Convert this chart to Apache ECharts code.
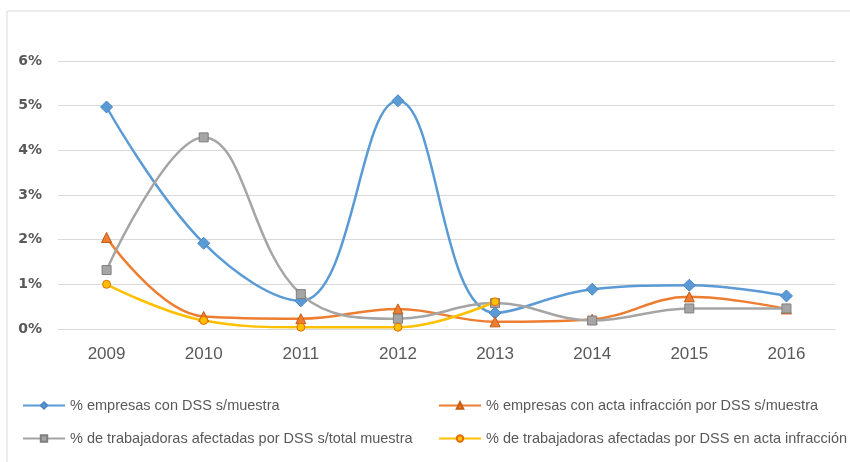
<!DOCTYPE html>
<html>
<head>
<meta charset="utf-8">
<script src="https://cdn.jsdelivr.net/npm/echarts@6/dist/echarts.min.js"></script>
<style>
  html, body { margin: 0; padding: 0; background: #fff; }
  #chart { width: 850px; height: 462px; }
</style>
</head>
<body>
<div id="chart"></div>
<script>
// años
var years = ["2009", "2010", "2011", "2012", "2013", "2014", "2015", "2016"];
// % empresas con DSS s/muestra
var empresasDss = [4.97, 1.92, 0.63, 5.11, 0.36, 0.89, 0.98, 0.74];
// % empresas con acta infracción por DSS s/muestra
var empresasActa = [2.05, 0.28, 0.23, 0.45, 0.16, 0.22, 0.72, 0.45];
// % de trabajadoras afectadas por DSS s/total muestra
var trabajadorasTotal = [1.32, 4.29, 0.78, 0.23, 0.58, 0.19, 0.46, 0.46];
// % de trabajadoras afectadas por DSS en acta infracción
var trabajadorasActa = [1.0, 0.19, 0.04, 0.04, 0.61, null, null, null];

var names = [
  "% empresas con DSS s/muestra",
  "% empresas con acta infracción por DSS s/muestra",
  "% de trabajadoras afectadas por DSS s/total muestra",
  "% de trabajadoras afectadas por DSS en acta infracción"
];

var myChart = echarts.init(document.getElementById("chart"));

function serie(name, data, color, border, symbol, size) {
  return {
    name: name,
    type: "line",
    data: data,
    smooth: 0.4,
    symbol: symbol,
    symbolSize: size,
    showAllSymbol: true,
    connectNulls: false,
    lineStyle: { color: color, width: 2.5 },
    itemStyle: { color: color, borderColor: border, borderWidth: 1 },
  };
}

var legendText = { color: "#595959", fontSize: 14.5, fontFamily: "Liberation Sans" };

var option = {
  animation: false,
  backgroundColor: "#fff",
  graphic: [
    {
      type: "rect",
      shape: { x: 7, y: 11, width: 860, height: 470 },
      style: { fill: "none", stroke: "#d9d9d9", lineWidth: 1 },
      silent: true,
    },
  ],
  grid: { left: 58, right: 15, top: 61, bottom: 133 },
  legend: [
    {
      orient: "vertical",
      left: 17,
      top: 393,
      itemWidth: 42,
      itemHeight: 8,
      itemGap: 18,
      textStyle: legendText,
      data: [names[0], names[2]],
    },
    {
      orient: "vertical",
      left: 433,
      top: 393,
      itemWidth: 42,
      itemHeight: 8,
      itemGap: 18,
      textStyle: legendText,
      data: [names[1], names[3]],
    },
  ],
  xAxis: {
    type: "category",
    data: years,
    boundaryGap: true,
    axisLine: { show: true, lineStyle: { color: "#d9d9d9", width: 1 } },
    axisTick: { show: false },
    axisLabel: {
      color: "#595959",
      fontSize: 17,
      fontFamily: "Liberation Sans",
      margin: 17,
    },
  },
  yAxis: {
    type: "value",
    min: 0,
    max: 6,
    interval: 1,
    axisLine: { show: false },
    axisTick: { show: false },
    splitLine: { lineStyle: { color: "#d9d9d9", width: 1 } },
    axisLabel: {
      formatter: "{value}%",
      color: "#595959",
      fontSize: 14,
      fontWeight: "bold",
      fontFamily: "DejaVu Sans",
      margin: 16,
    },
  },
  series: [
    serie(names[0], empresasDss, "#5B9BD5", "#4A86C5", "diamond", 12),
    serie(names[1], empresasActa, "#ED7D31", "#C55A11", "triangle", 10),
    serie(names[2], trabajadorasTotal, "#A5A5A5", "#7F7F7F", "rect", 9),
    serie(names[3], trabajadorasActa, "#FFC000", "#E46C0A", "circle", 8),
  ],
};
myChart.setOption(option);
</script>
</body>
</html>
